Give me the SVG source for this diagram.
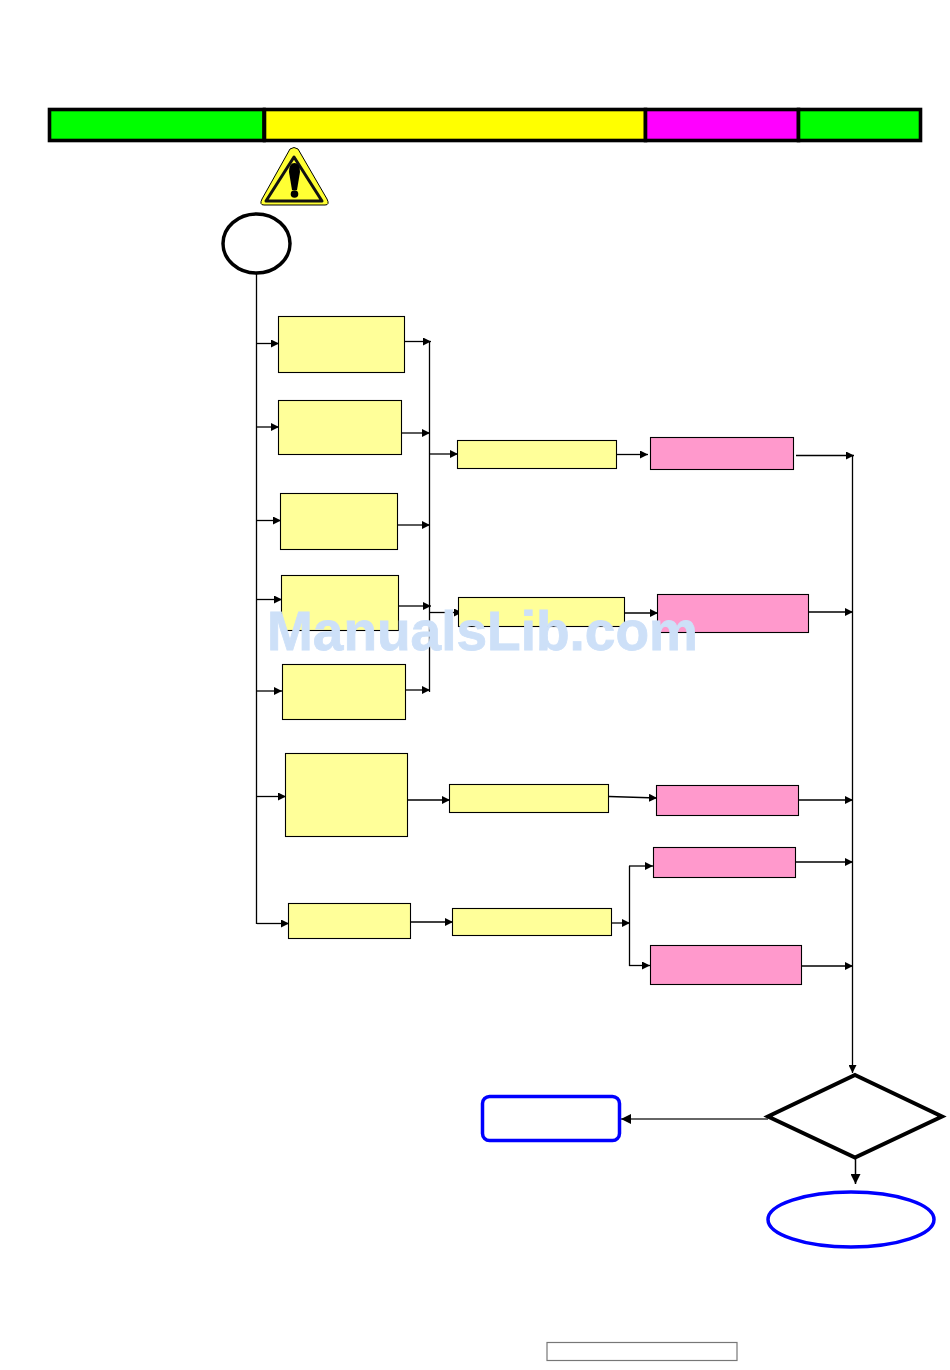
<svg xmlns="http://www.w3.org/2000/svg" width="950" height="1370" viewBox="0 0 950 1370">
<style>
.y{fill:#ffff99;stroke:#000;stroke-width:1.100}
.p{fill:#ff99cc;stroke:#000;stroke-width:1.100}
.bar{stroke:#000;stroke-width:3.600}
.c{fill:none;stroke:#000;stroke-width:1.300}
.a{fill:none;stroke:#000;stroke-width:1.300;marker-end:url(#ah)}
.wm{font-family:"Liberation Sans",Arial,sans-serif;font-weight:bold;font-size:55px;fill:#cde0f8;stroke:#cde0f8;stroke-width:0.800}
</style>
<defs>
<marker id="ah" markerUnits="userSpaceOnUse" markerWidth="9" markerHeight="8" refX="8" refY="4" orient="auto"><path d="M0,0L8,4L0,8Z" fill="#000"/></marker>
<marker id="ahb" markerUnits="userSpaceOnUse" markerWidth="11" markerHeight="10" refX="10" refY="5" orient="auto"><path d="M0,0L10,5L0,10Z" fill="#000"/></marker>
</defs>
<g id="header">
<rect class="bar" x="49.500" y="109.500" width="214.500" height="31" fill="#00ff00"/>
<rect class="bar" x="264.500" y="109.500" width="381" height="31" fill="#ffff00"/>
<rect class="bar" x="645.500" y="109.500" width="153" height="31" fill="#ff00ff"/>
<rect class="bar" x="798.500" y="109.500" width="122" height="31" fill="#00ff00"/>
</g>
<g id="warning">
<path d="M290,149Q294,146 298,149L327,199Q330,205 325,205L264,205Q259,205 262,199Z" fill="#ffff33" stroke="#000" stroke-width="1"/>
<path d="M294,157L322,201L266,201Z" fill="#ffff33" stroke="#111" stroke-width="3" stroke-linejoin="round"/>
<path d="M289,172Q289,163 294.500,163Q300,163 300,172L297,190L292,190Z" fill="#000"/>
<circle cx="294.500" cy="194" r="3.800" fill="#000"/>
</g>
<g id="start"><ellipse cx="256.500" cy="243.500" rx="33.500" ry="29.500" fill="#fff" stroke="#000" stroke-width="3.500"/></g>
<g id="connectors">
<path class="c" d="M256.500,274V924"/>
<path class="a" d="M257,343.500H279"/>
<path class="a" d="M257,427H279"/>
<path class="a" d="M257,520.500H281"/>
<path class="a" d="M257,599.500H282"/>
<path class="a" d="M257,691H282"/>
<path class="a" d="M257,796.500H286"/>
<path class="a" d="M257,923.500H289"/>
<path class="c" d="M429.500,341V692"/>
<path class="a" d="M404,341.500H431"/>
<path class="a" d="M402,433H430"/>
<path class="a" d="M398,525H430"/>
<path class="a" d="M399,606H431"/>
<path class="a" d="M406,690H430"/>
<path class="a" d="M430,454H458"/>
<path class="a" d="M430,612.500H462"/>
<path class="a" d="M617,454.500H648"/>
<path class="a" d="M625,613H658"/>
<path class="a" d="M408,800H450"/>
<path class="a" d="M609,796.500L657,798"/>
<path class="a" d="M411,922H453"/>
<path class="a" d="M612,923H630"/>
<path class="c" d="M629.500,866V966"/>
<path class="a" d="M629,866H653"/>
<path class="a" d="M629,965.500H650"/>
<path class="a" d="M796,455.500H854"/>
<path class="a" d="M809,612H853"/>
<path class="a" d="M799,800H853"/>
<path class="a" d="M796,862H853"/>
<path class="a" d="M802,966H853"/>
<path class="a" d="M852.500,455V1073"/>
<path fill="none" stroke="#333" stroke-width="1.500" marker-end="url(#ahb)" d="M768,1119H621"/>
<path fill="none" stroke="#000" stroke-width="1.500" marker-end="url(#ahb)" d="M855.500,1158V1184"/>
</g>
<g id="n1"><rect class="y" x="278.500" y="316.500" width="126" height="56"/></g>
<g id="n2"><rect class="y" x="278.500" y="400.500" width="123" height="54"/></g>
<g id="n3"><rect class="y" x="280.500" y="493.500" width="117" height="56"/></g>
<g id="n4"><rect class="y" x="281.500" y="575.500" width="117" height="55"/></g>
<g id="n5"><rect class="y" x="282.500" y="664.500" width="123" height="55"/></g>
<g id="n6"><rect class="y" x="285.500" y="753.500" width="122" height="83"/></g>
<g id="n7"><rect class="y" x="288.500" y="903.500" width="122" height="35"/></g>
<g id="n8"><rect class="y" x="457.500" y="440.500" width="159" height="28"/></g>
<g id="n9"><rect class="y" x="458.500" y="597.500" width="166" height="29"/></g>
<g id="n10"><rect class="y" x="449.500" y="784.500" width="159" height="28"/></g>
<g id="n11"><rect class="y" x="452.500" y="908.500" width="159" height="27"/></g>
<g id="p1"><rect class="p" x="650.500" y="437.500" width="143" height="32"/></g>
<g id="p2"><rect class="p" x="657.500" y="594.500" width="151" height="38"/></g>
<g id="p3"><rect class="p" x="656.500" y="785.500" width="142" height="30"/></g>
<g id="p4"><rect class="p" x="653.500" y="847.500" width="142" height="30"/></g>
<g id="p5"><rect class="p" x="650.500" y="945.500" width="151" height="39"/></g>
<g id="decision"><path d="M855,1075L942,1116.500L855,1157.500L768,1116.500Z" fill="#fff" stroke="#000" stroke-width="4"/></g>
<g id="retry"><rect x="482.500" y="1096.500" width="137" height="44" rx="7" fill="#fff" stroke="#0000ff" stroke-width="3.500"/></g>
<g id="end"><ellipse cx="851" cy="1219.500" rx="83" ry="27.500" fill="#fff" stroke="#0000ff" stroke-width="3.500"/></g>
<g id="footer"><rect x="547" y="1342.500" width="190" height="18" fill="#fff" stroke="#777" stroke-width="1.200"/></g>
<text class="wm" x="267" y="650">ManualsLib.com</text>
</svg>
